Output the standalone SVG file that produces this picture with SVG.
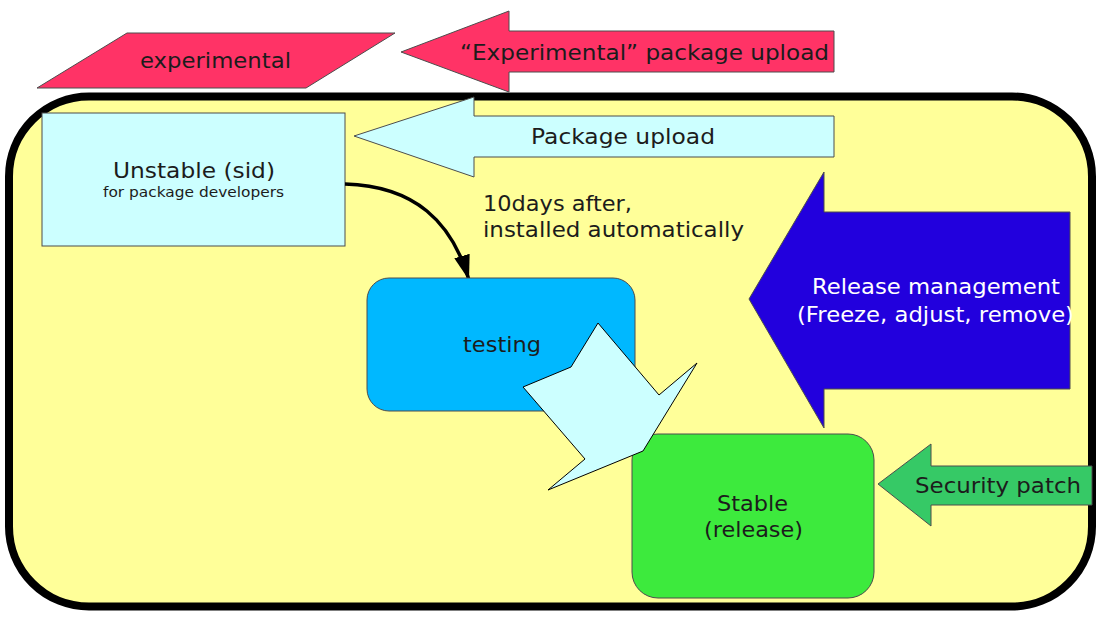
<svg xmlns="http://www.w3.org/2000/svg" width="1110" height="625" viewBox="0 0 1110 625">
<style>
text{font-family:"DejaVu Sans","Noto Sans CJK JP",sans-serif;fill:#1c1c1c}
.w{fill:#ffffff}
.sh{stroke:#4d4d4d;stroke-width:1}
</style>
<defs>
<marker id="ah" markerWidth="25" markerHeight="16" refX="25" refY="8" orient="auto" markerUnits="userSpaceOnUse" viewBox="0 0 25 16">
<path d="M0,0 L25,8 L0,16 z" fill="#000"/>
</marker>
</defs>
<rect id="frame" x="9" y="96.5" width="1083" height="510" rx="80" ry="80" fill="#ffff99" stroke="#000" stroke-width="8"/>
<g id="experimental">
<polygon class="sh" points="37,88 127,33 395,33 306,88" fill="#ff3366"/>
<text x="140" y="68" font-size="22" textLength="151" lengthAdjust="spacingAndGlyphs">experimental</text>
</g>
<g id="exp-upload">
<polygon class="sh" points="401,52 509,11 509,31 834,31 834,72 509,72 509,92" fill="#ff3366"/>
<text x="460" y="60" font-size="22" textLength="369" lengthAdjust="spacingAndGlyphs">“Experimental” package upload</text>
</g>
<g id="pkg-upload">
<polygon class="sh" points="354,136 474,97 474,116 834,116 834,157 474,157 474,177" fill="#ccffff"/>
<text x="531" y="144" font-size="22" textLength="184" lengthAdjust="spacingAndGlyphs">Package upload</text>
</g>
<g id="unstable">
<rect class="sh" x="42" y="113" width="303" height="133" fill="#ccffff"/>
<text x="113" y="178" font-size="22" textLength="162" lengthAdjust="spacingAndGlyphs">Unstable (sid)</text>
<text x="103" y="197" font-size="14" textLength="181" lengthAdjust="spacingAndGlyphs">for package developers</text>
</g>
<g id="connectors">
<path d="M345,184 C415,186 452,222 469,280" fill="none" stroke="#000" stroke-width="3.5" marker-end="url(#ah)"/>
<text x="483" y="211" font-size="22" textLength="149" lengthAdjust="spacingAndGlyphs">10days after,</text>
<text x="483" y="237" font-size="22" textLength="261" lengthAdjust="spacingAndGlyphs">installed automatically</text>
</g>
<g id="testing">
<rect class="sh" x="367" y="278" width="268" height="133" rx="22" fill="#00b8ff"/>
<text x="463" y="352" font-size="22" textLength="78" lengthAdjust="spacingAndGlyphs">testing</text>
</g>
<g id="release-mgmt">
<polygon class="sh" points="749,299 824,172 824,212 1070,212 1070,389 824,389 824,428" fill="#2200dd"/>
<text class="w" x="812" y="294" font-size="22" textLength="248" lengthAdjust="spacingAndGlyphs">Release management</text>
<text class="w" x="797" y="322" font-size="22" textLength="277" lengthAdjust="spacingAndGlyphs">(Freeze, adjust, remove)</text>
</g>
<g id="stable">
<rect class="sh" x="632" y="434" width="242" height="164" rx="26" fill="#3dea3d"/>
<text x="717" y="511" font-size="21" textLength="71" lengthAdjust="spacingAndGlyphs">Stable</text>
<text x="704" y="537" font-size="21" textLength="99" lengthAdjust="spacingAndGlyphs">(release)</text>
</g>
<g id="security">
<polygon class="sh" points="878,484 931,444 931,466 1092,466 1092,505 931,505 931,526" fill="#36c966"/>
<text x="915" y="493" font-size="22" textLength="166" lengthAdjust="spacingAndGlyphs">Security patch</text>
</g>
<g id="promote">
<polygon points="598,323 571,367 523,387 585,459 548,490 643,451 697,363 659,395" fill="#ccffff" stroke="#000" stroke-width="1"/>
</g>
</svg>
